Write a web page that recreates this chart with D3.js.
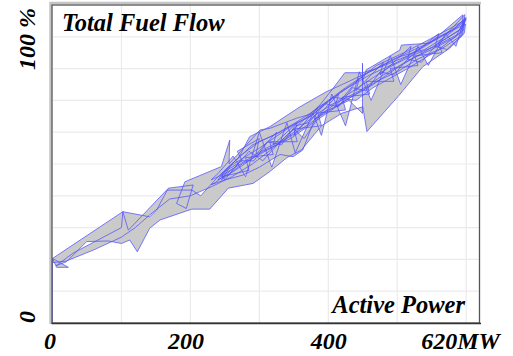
<!DOCTYPE html>
<html>
<head>
<meta charset="utf-8">
<script src="https://cdn.jsdelivr.net/npm/d3@7"></script>
<style>
  body { margin: 0; background: #fff; }
  .lbl { font-family: "Liberation Serif", "Times New Roman", serif; font-weight: bold; font-style: italic; fill: #000; }
</style>
</head>
<body>
<div id="chart-area"></div>
<script>
// trace of active power (MW) vs total fuel flow (%)
const passUp1 = [
  [0, 0], [0, 20.3], [23, 17.5], [6, 17.5], [0, 20.3], [102, 35], [141, 33.4], [151, 35.5],
  [168, 42.4], [204, 43.4], [194, 36], [180, 37.6], [192, 44.4], [245, 49.2], [257, 57.5],
  [256, 50], [301, 60.7], [315, 61.2], [354, 64.4], [378, 65.9], [407, 73.8], [424, 78.7],
  [449.6, 78.7], [449.6, 81.7], [449.6, 76], [455, 79.6], [503.6, 85.8], [506, 87.4], [547, 88],
  [595, 96.9]
];
const passDown1 = [
  [595, 90.6], [576, 86.4], [537, 80.6], [501, 71.2], [456, 60.2], [450, 68], [420, 66],
  [390, 62], [361, 54.4], [340, 52], [315, 47.6], [291, 43.9], [255, 42.4], [228, 35.8],
  [202, 35.8], [156, 32.4], [141, 29.8], [123, 22.4], [112, 26.1], [100, 25], [81, 25.8],
  [49.5, 25.6], [20.5, 19.3], [5, 18]
];
const passUp2 = [
  [30, 22], [100, 30], [102, 35], [110, 29.2], [165.5, 41.8], [202, 41.8], [215, 40], [240, 46],
  [270, 52], [286, 58.6], [315, 61.7], [359, 68], [397, 72.7], [430, 76], [470, 80], [503, 83.7],
  [540, 86], [570, 90], [598, 95]
];
const passDown2 = [
  [596, 92], [560, 86], [530, 83], [500, 79], [470, 76], [440, 72], [410, 68], [380, 64],
  [363, 54.4], [349, 52.3], [330, 53], [300, 49], [276, 46.5], [250, 45], [230, 43.5]
];
const passUp3 = [
  [235, 44], [265, 49], [285, 54], [305, 51], [330, 57], [350, 61], [365, 58], [390, 66],
  [430, 70], [449.6, 65.9], [449.6, 78.7], [470, 80], [515, 84], [560, 90], [599, 94]
];
const passDown3 = [
  [597, 91], [570, 87], [545, 84], [515, 80], [490, 77], [465, 74], [440, 70], [407, 71],
  [380, 67], [355, 62], [325, 56], [300, 53], [275, 50], [245, 45]
];
const passUp4 = [
  [260, 50], [290, 56], [320, 59], [345, 62], [375, 65], [400, 70], [425, 74], [460, 79],
  [495, 83], [525, 86], [555, 89], [580, 92], [599, 96]
];
const passDown4 = [
  [585, 90], [550, 86], [520, 83], [480, 78], [445, 73], [410, 69], [375, 63], [340, 58],
  [310, 55], [280, 51], [250, 47], [230, 45]
];
const passUp6 = [
  [240, 47], [262, 52.5], [280, 46], [300, 60], [318, 49], [340, 63], [352, 53.5], [378, 66],
  [390, 59], [405, 72], [425, 62], [445, 79], [462, 70], [490, 84], [505, 75], [530, 87],
  [545, 81], [570, 91], [585, 87], [597, 95]
];
const passDown6 = [
  [592, 90], [572, 86], [555, 87], [535, 82], [515, 83], [495, 78], [475, 79], [455, 73],
  [435, 74], [415, 68], [395, 69], [372, 63], [352, 62], [332, 56], [312, 57], [292, 51],
  [272, 51], [250, 45]
];
const passUp7 = [
  [245, 47], [275, 51], [268, 54], [300, 58], [295, 53], [325, 60], [320, 56], [355, 63],
  [350, 59], [385, 68], [380, 64], [415, 72], [410, 68], [445, 77], [440, 73], [480, 82],
  [475, 78], [520, 87], [515, 83], [560, 91], [555, 87], [598, 97]
];
const passDown7 = [
  [596, 93], [560, 88], [565, 85], [525, 84], [530, 81], [490, 80], [495, 76], [455, 76],
  [460, 72], [420, 71], [425, 67], [385, 66], [390, 62], [350, 61], [355, 57], [315, 57],
  [320, 53], [280, 52], [285, 48], [245, 46]
];
const passUp8 = [
  [255, 49], [300, 55], [340, 61], [380, 66], [420, 73], [460, 78], [500, 82], [540, 87],
  [585, 93], [600, 96]
];
const passDown8 = [
  [590, 92], [545, 86], [505, 81], [465, 75], [425, 70], [385, 64], [345, 58], [305, 54],
  [265, 48], [240, 45]
];
const passUp5 = [
  [250, 48], [275, 53], [300, 57], [330, 60], [360, 64], [395, 69], [435, 75], [470, 81],
  [510, 85], [545, 89], [580, 93], [600, 95.5]
];
const passDownLast = [
  [590, 91], [555, 87], [520, 84], [485, 80], [450, 75], [415, 70], [385, 66], [350, 60],
  [320, 55], [290, 50], [260, 46], [232, 43], [200, 40], [170, 39], [141, 34], [120, 30],
  [100, 27], [60, 23], [20, 19.5], [0, 19]
];

const xTicks = [0, 200, 400, 620];
const xTickLabels = ['0', '200', '400', '620MW'];
const yTicks = [0, 100];
const yTickLabels = ['0', '100 %'];
const xGrid = [100, 200, 300, 400, 500, 600];
const yGrid = [10, 20, 30, 40, 50, 60, 70, 80, 90];

const trace = [].concat(passUp1, passDown1, passUp2, passDown2, passUp3, passDown3,
  passUp4, passDown4, passUp6, passDown6, passUp7, passDown7, passUp8, passDown8,
  passUp5, passDownLast);

const W = 513, H = 356;
const plot = { left: 52.5, right: 480, top: 5, bottom: 323 };

const svg = d3.select('#chart-area')
  .append('svg')
  .attr('width', W)
  .attr('height', H);

const x = d3.scaleLinear().domain([0, 620]).range([plot.left, plot.right]);
const y = d3.scaleLinear().domain([0, 100]).range([plot.bottom, plot.top]);

// grid
svg.append('g').selectAll('line').data(xGrid).join('line')
  .attr('x1', d => x(d)).attr('x2', d => x(d))
  .attr('y1', plot.top).attr('y2', plot.bottom)
  .attr('stroke', '#ebebeb').attr('stroke-width', 1.2);

svg.append('g').selectAll('line').data(yGrid).join('line')
  .attr('x1', plot.left).attr('x2', plot.right)
  .attr('y1', d => y(d)).attr('y2', d => y(d))
  .attr('stroke', '#ebebeb').attr('stroke-width', 1.2);

// trace: filled polygon + blue polyline
const line = d3.line().x(d => x(d[0])).y(d => y(d[1]));

svg.append('path')
  .datum(trace)
  .attr('d', line)
  .attr('fill', '#cacaca')
  .attr('fill-rule', 'nonzero')
  .attr('stroke', '#5252ff')
  .attr('stroke-width', 0.75)
  .attr('stroke-linejoin', 'round');

// frame
svg.append('path')
  .attr('d', `M${plot.left - 2},${plot.bottom + 1}V${plot.top - 2}H${plot.right + 1}`)
  .attr('fill', 'none').attr('stroke', '#c4c4c4').attr('stroke-width', 2.5);
svg.append('rect')
  .attr('x', plot.left - 0.5).attr('y', plot.top)
  .attr('width', plot.right - plot.left).attr('height', plot.bottom - plot.top)
  .attr('fill', 'none').attr('stroke', '#555').attr('stroke-width', 1.3);
svg.append('line')
  .attr('x1', plot.left - 1).attr('x2', plot.right + 1)
  .attr('y1', plot.bottom + 0.5).attr('y2', plot.bottom + 0.5)
  .attr('stroke', '#333').attr('stroke-width', 1.6);

// x tick labels
const xAxis = d3.axisBottom(x)
  .tickValues(xTicks)
  .tickSize(0)
  .tickFormat((d, i) => xTickLabels[i]);

const xAxisGroup = svg.append('g')
  .attr('transform', `translate(0, ${plot.bottom})`)
  .call(xAxis);
xAxisGroup.select('.domain').remove();
xAxisGroup.selectAll('text')
  .attr('class', 'lbl')
  .attr('font-size', 24)
  .attr('y', 26)
  .attr('dy', 0)
  .attr('dx', (d, i) => i === 3 ? -20 : (i === 1 ? -5 : (i === 0 ? -3 : 0)));

// y tick labels (rotated)
svg.append('g').selectAll('text').data(yTicks).join('text')
  .attr('class', 'lbl')
  .attr('font-size', 24)
  .attr('text-anchor', (d, i) => i === 0 ? 'start' : 'end')
  .attr('transform', (d, i) => `translate(35, ${i === 0 ? y(d) : y(d) + 3}) rotate(-90)`)
  .text((d, i) => yTickLabels[i]);

// titles
svg.append('text')
  .attr('class', 'lbl')
  .attr('x', 62).attr('y', 31)
  .attr('font-size', 24.5)
  .text('Total Fuel Flow');

svg.append('text')
  .attr('class', 'lbl')
  .attr('x', 465).attr('y', 313)
  .attr('text-anchor', 'end')
  .attr('font-size', 24.5)
  .text('Active Power');
</script>
</body>
</html>
